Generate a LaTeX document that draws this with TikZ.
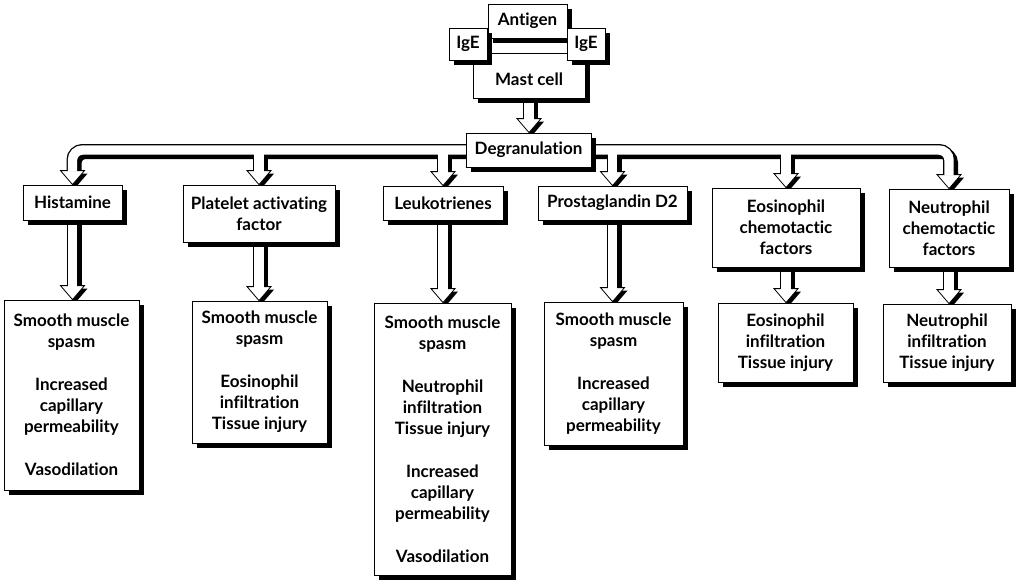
\documentclass[tikz,border=0pt]{standalone}
\usepackage{fontspec}
\setmainfont{Lato}[Ligatures={NoCommon,NoContextual}]
\usetikzlibrary{shadows,calc}
\pgfdeclarelayer{bg}
\pgfsetlayers{bg,main}
\tikzset{
  box/.style={draw=black, line width=0.8pt, fill=white, align=center, inner sep=0pt,
    font=\fontsize{17}{21}\selectfont\bfseries,
    drop shadow={shadow xshift=4.5pt, shadow yshift=-4.5pt, fill=black, opacity=1}},
  pipeout/.style={line width=12pt, draw=black},
  pipein/.style={line width=9.4pt, draw=white},
  headshadow/.style={fill=black},
  headmain/.style={fill=white, draw=black, line width=0.8pt, line join=miter},
}
\newcommand\allpipes[2]{%
  \draw[#1, rounded corners=10pt] ($(tHist)+(0pt,#2)$) |- (degran.center) -| ($(tNeu)+(0pt,#2)$);
  \draw[#1] (tPlat |- degran.center) -- ($(tPlat)+(0pt,#2)$);
  \draw[#1] (tLeuk |- degran.center) -- ($(tLeuk)+(0pt,#2)$);
  \draw[#1] (tProst |- degran.center) -- ($(tProst)+(0pt,#2)$);
  \draw[#1] (tEos |- degran.center) -- ($(tEos)+(0pt,#2)$);
  \draw[#1] (mast.center) -- ($(tDeg)+(0pt,#2)$);
  \draw[#1] (hist.center) -- ($(tRa)+(0pt,#2)$);
  \draw[#1] (plat.center) -- ($(tRb)+(0pt,#2)$);
  \draw[#1] (leuk.center) -- ($(tRc)+(0pt,#2)$);
  \draw[#1] (prost.center) -- ($(tRd)+(0pt,#2)$);
  \draw[#1] (eos.center) -- ($(tRe)+(0pt,#2)$);
  \draw[#1] (neu.center) -- ($(tRf)+(0pt,#2)$);
}
\newcommand\allheads[1]{%
  \foreach \tp in {tHist,tPlat,tLeuk,tProst,tEos,tNeu,tDeg,tRa,tRb,tRc,tRd,tRe,tRf}{
    \path[#1] ($(\tp)+(-12pt,14pt)$) -- (\tp) -- ($(\tp)+(12pt,14pt)$) -- cycle;
  }%
}
\begin{document}
\begin{tikzpicture}[x=1pt,y=-1pt]
\useasboundingbox (0,0) rectangle (1016,581);
\begin{pgfonlayer}{bg}
\fill[white] (0,0) rectangle (1016,581);
\end{pgfonlayer}

% top cluster
\node[box, minimum width=112pt, minimum height=45pt] (mast) at (529,75.5) {\raisebox{-3.5pt}[\height][\depth]{Mast cell}};
\node[box, minimum width=79pt, minimum height=34pt] (antigen) at (527.5,21) {Antigen};
\node[box, minimum width=38pt, minimum height=32pt] (igel) at (468,44) {IgE};
\node[box, minimum width=38pt, minimum height=32pt] (iger) at (586,44) {IgE};

\node[box, minimum width=125pt, minimum height=34pt] (degran) at (528.5,150) {Degranulation};

% mediators
\node[box, minimum width=99pt, minimum height=35pt] (hist) at (72.5,202.5) {Histamine};
\node[box, minimum width=152pt, minimum height=57pt] (plat) at (259,213.5) {Platelet activating\\factor};
\node[box, minimum width=120pt, minimum height=34pt] (leuk) at (443,203) {Leukotrienes};
\node[box, minimum width=149pt, minimum height=34pt] (prost) at (612.5,203) {Prostaglandin D2};
\node[box, minimum width=148pt, minimum height=79pt] (eos) at (786,227.5) {Eosinophil\\chemotactic\\factors};
\node[box, minimum width=120pt, minimum height=78pt] (neu) at (949,228) {Neutrophil\\chemotactic\\factors};

% effects
\node[box, minimum width=135pt, minimum height=190pt] (r1) at (71.5,395) {Smooth muscle\\spasm\\[22pt]Increased\\capillary\\permeability\\[22pt]Vasodilation};
\node[box, minimum width=135pt, minimum height=142pt] (r2) at (259.5,372) {Smooth muscle\\spasm\\[22pt]Eosinophil\\infiltration\\Tissue injury};
\node[box, minimum width=137pt, minimum height=272pt] (r3) at (442.5,439) {Smooth muscle\\spasm\\[22pt]Neutrophil\\infiltration\\Tissue injury\\[22pt]Increased\\capillary\\permeability\\[22pt]Vasodilation};
\node[box, minimum width=139pt, minimum height=143pt] (r4) at (613.5,373.5) {Smooth muscle\\spasm\\[22pt]Increased\\capillary\\permeability};
\node[box, minimum width=135pt, minimum height=79pt] (r5) at (785.5,342.5) {Eosinophil\\infiltration\\Tissue injury};
\node[box, minimum width=128pt, minimum height=78pt] (r6) at (947,343) {Neutrophil\\infiltration\\Tissue injury};

% arrow tips
\coordinate (tHist) at (hist.north);
\coordinate (tPlat) at (plat.north);
\coordinate (tLeuk) at (leuk.north);
\coordinate (tProst) at (prost.north);
\coordinate (tEos) at (eos.north);
\coordinate (tNeu) at (neu.north);
\coordinate (tDeg) at (mast.center |- degran.north);
\coordinate (tRa) at (hist.center |- r1.north);
\coordinate (tRb) at (plat.center |- r2.north);
\coordinate (tRc) at (leuk.center |- r3.north);
\coordinate (tRd) at (prost.center |- r4.north);
\coordinate (tRe) at (eos.center |- r5.north);
\coordinate (tRf) at (neu.center |- r6.north);

\begin{pgfonlayer}{bg}
  \begin{scope}[transform canvas={shift={(3pt,-3pt)}}]
    \allpipes{pipeout}{14pt}
    \allheads{headshadow}
  \end{scope}
  \allpipes{pipeout}{14pt}
  \allheads{headmain}
  \allpipes{pipein}{13pt}
\end{pgfonlayer}
\end{tikzpicture}
\end{document}
